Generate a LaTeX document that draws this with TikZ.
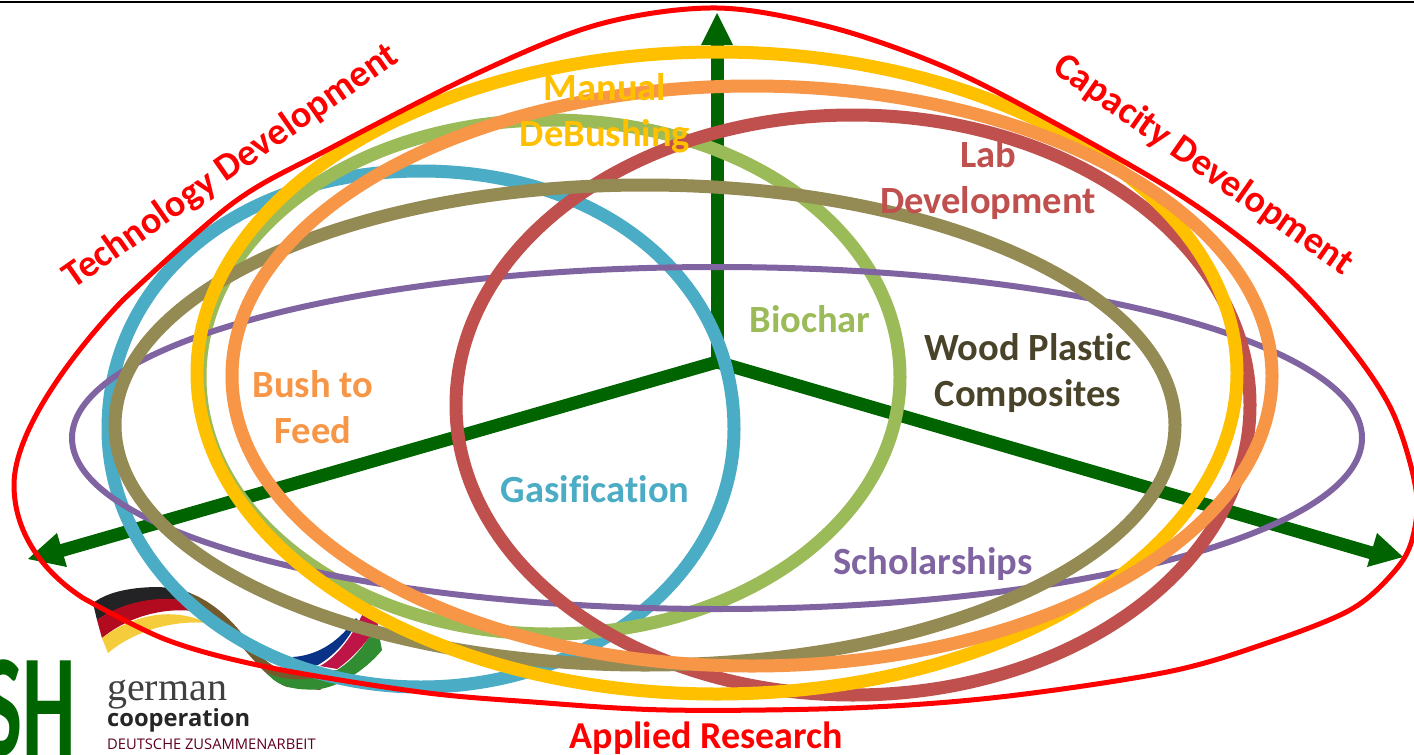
\documentclass[tikz,border=0pt]{standalone}
\usepackage{fontspec}
\setmainfont[Ligatures=NoCommon]{Carlito}
\newfontfamily\logoserif{Liberation Serif}
\newfontfamily\logosans{Open Sans}
\definecolor{dgreen}{RGB}{0,100,0}
\definecolor{cblue}{RGB}{75,172,198}
\definecolor{cgreen}{RGB}{155,187,89}
\definecolor{corange}{RGB}{247,150,70}
\definecolor{cyellow}{RGB}{255,192,0}
\definecolor{colive}{RGB}{148,138,84}
\definecolor{cbrick}{RGB}{192,80,77}
\definecolor{cpurple}{RGB}{128,100,162}
\definecolor{cdark}{RGB}{73,68,41}
\definecolor{flagblack}{RGB}{35,35,38}
\definecolor{flagred}{RGB}{178,10,30}
\definecolor{flagyellow}{RGB}{245,205,60}
\definecolor{loopbrown}{RGB}{115,90,45}
\definecolor{nblue}{RGB}{10,50,135}
\definecolor{nred}{RGB}{190,20,70}
\definecolor{ngreen}{RGB}{50,140,50}
\newcommand\ringpath[6]{(#1-#3,#2) .. controls (#1-#3,{#2-#4*#5}) and ({#1-#3*#5},#2-#4) .. (#1,#2-#4) .. controls ({#1+#3*#5},#2-#4) and (#1+#3,{#2-#4*#5}) .. (#1+#3,#2) .. controls (#1+#3,{#2+#4*#6}) and ({#1+#3*#6},#2+#4) .. (#1,#2+#4) .. controls ({#1-#3*#6},#2+#4) and (#1-#3,{#2+#4*#6}) .. (#1-#3,#2) -- cycle}
\tikzset{
 ring/.style={line width=13pt,draw,fill=none},
 thinring/.style={line width=6pt,draw,fill=none},
 axisline/.style={line width=13pt,dgreen},
 lab/.style={font=\bfseries\fontsize{38.5}{46}\selectfont,align=center,inner sep=0pt},
 axlab/.style={font=\bfseries\fontsize{38}{40}\selectfont,red,inner sep=0pt},
 tip/.style={fill=dgreen,draw=none}
}
\begin{document}
\begin{tikzpicture}[x=1pt,y=-1pt]
\useasboundingbox (0,0) rectangle (1414,755);
\fill[white] (0,0) rectangle (1414,755);
\draw[black,line width=2.5pt] (0,2) -- (1414,2);
% logo
\fill[loopbrown] (187,592) .. controls (205,598) and (225,612) .. (243,635) .. controls (258,655) and (270,668) .. (290,672) -- (340,670) -- (320,690) -- (287,687) .. controls (268,680) and (255,660) .. (235,640) -- (207,623) -- cycle;
\fill[flagblack] (93,603) .. controls (105,594) and (125,587) .. (160,587) .. controls (170,588) and (180,590) .. (190,593) -- (195,603) .. controls (170,596) and (130,598) .. (97,620) -- cycle;
\fill[flagred] (97,620) .. controls (125,600) and (165,594) .. (195,603) -- (205,613) .. controls (170,605) and (130,615) .. (102,638) -- cycle;
\fill[flagyellow] (102,638) .. controls (130,617) and (170,605) .. (207,623) .. controls (175,620) and (135,630) .. (108,653) -- cycle;
\fill[ngreen] (337,670) .. controls (350,662) and (362,650) .. (377,625) -- (382,650) .. controls (370,665) and (345,685) .. (320,689) .. controls (300,691) and (278,688) .. (267,673) .. controls (285,682) and (315,682) .. (337,670) -- cycle;
\fill[nred] (320,666) .. controls (335,658) and (350,640) .. (361,617) -- (370,603) -- (378,625) .. controls (365,645) and (350,660) .. (337,669) -- cycle;
\fill[nblue] (293,657) .. controls (320,655) and (340,640) .. (356,618) -- (358,620) .. controls (348,640) and (335,655) .. (318,665) -- (300,668) -- cycle;
\node[inner sep=0pt,anchor=base west,text=black!75] (lg1) at (107,700) {\logoserif\fontsize{40}{40}\selectfont german};
\node[inner sep=0pt,anchor=base west,text=black!85] (lg2) at (107,726) {\logosans\bfseries\fontsize{23.7}{24}\selectfont cooperation};
\node[inner sep=0pt,anchor=base west,text=purple!50!black] (lg3) at (107,749) {\logosans\fontsize{14.7}{15}\selectfont DEUTSCHE ZUSAMMENARBEIT};
\begin{scope}
\clip (0,0) rectangle (1414,755);
\node[inner sep=0pt,anchor=base east,text=dgreen,xscale=.58] (gsh) at (76,755) {\fontsize{146}{146}\selectfont\bfseries SH};
\end{scope}
% axes
\coordinate (o) at (717,362);
\coordinate (top) at (717,40);
\coordinate (lft) at (60,551);
\coordinate (rgt) at (1372,553);
\draw[axisline] (717,368) -- (top);
\draw[axisline] (o) -- (lft);
\draw[axisline] (o) -- (rgt);
\fill[tip] (717,13) -- (733,45) -- (701,45) -- cycle;
\fill[tip] (28,559) -- (57,533) -- (67,567) -- cycle;
\fill[tip] (1403,557) -- (1377,533) -- (1367,567) -- cycle;
% rings
\draw[ring,cblue] \ringpath{421}{429}{313}{258}{.58}{.5523};
\draw[ring,cgreen] \ringpath{550}{377}{350}{257}{.56}{.5523};
\draw[thinring,cpurple] \ringpath{717}{438}{645}{171}{.5523}{.5523};
\draw[ring,cbrick] \ringpath{853}{405}{397}{290}{.5523}{.5523};
\draw[ring,colive] \ringpath{645}{425}{530}{240}{.5523}{.5523};
\draw[ring,cyellow] \ringpath{717}{373}{520}{321}{.5523}{.5523};
\draw[ring,corange] \ringpath{752}{376}{520}{290}{.5523}{.5523};
% red boundary
\draw[red,line width=5pt,line join=round] plot[smooth,tension=.55] coordinates {(123,300) (233,203) (327,150) (480,72) (600,24) (717,8) (830,27) (940,65) (1040,115) (1183,197) (1283,273) (1350,347) (1393,413) (1416,490) (1412,540) (1393,573) (1350,610) (1267,643) (1167,672) (1000,697) (850,708) (667,710) (533,702) (420,692) (267,667) (167,640) (83,598)} .. controls (40,570) and (14,530) .. (14,485) .. controls (14,430) and (75,350) .. (123,300) -- cycle;
% labels
\node[lab,text=cyellow] (manual) at (605,113.5) {Manual\\DeBushing};
\node[lab,text=cbrick] (labdev) at (988,180.5) {Lab\\Development};
\node[lab,text=cgreen] (biochar) at (810,319) {Biochar};
\node[lab,text=cdark] (wpc) at (1028,373.5) {Wood Plastic\\Composites};
\node[lab,text=corange] (feed) at (313,407) {Bush to\\Feed};
\node[lab,text=cblue] (gas) at (595,489) {Gasification};
\node[lab,text=cpurple] (sch) at (933,564) {Scholarships};
\node[axlab,rotate=35] (tech) at (231,167) {Technology Development};
\node[axlab,rotate=-35] (cap) at (1203,165) {Capacity Development};
\node[axlab] (app) at (706,738) {Applied Research};
\end{tikzpicture}
\end{document}
